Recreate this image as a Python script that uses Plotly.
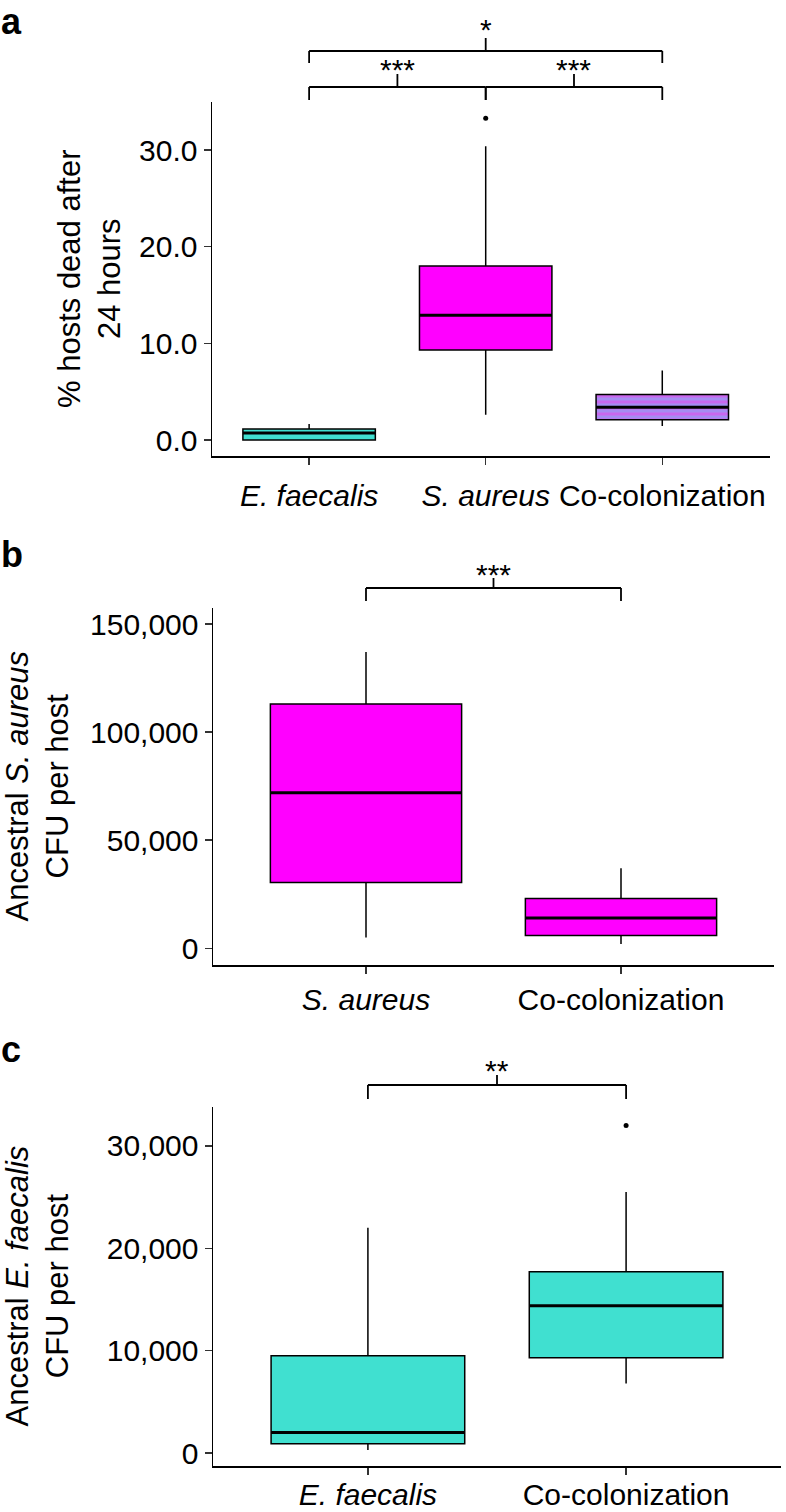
import plotly.graph_objects as go

W, H = 786, 1512

# ---------------- data ----------------
# Panel a: % hosts dead after 24 hours
a_cats = ["<i>E. faecalis</i>", "<i>S. aureus</i>", "Co-colonization"]
a_low = [0.0, 2.6, 1.45]
a_q1 = [0.0, 9.3, 2.1]
a_med = [0.72, 12.9, 3.4]
a_q3 = [1.14, 18.0, 4.7]
a_high = [1.65, 30.4, 7.2]
a_out_x = [1]
a_out_y = [33.3]
a_ticks = [0, 10, 20, 30]
a_ticklabels = ["0.0", "10.0", "20.0", "30.0"]
a_fill = ["turq", "mag", "stripe"]
a_sig = [(0, 1, "***", 0), (1, 2, "***", 0), (0, 2, "*", 1)]

# Panel b: ancestral S. aureus CFU per host
b_cats = ["<i>S. aureus</i>", "Co-colonization"]
b_low = [5000, 2000]
b_q1 = [30500, 6000]
b_med = [72000, 14000]
b_q3 = [113000, 23000]
b_high = [137000, 37000]
b_ticks = [0, 50000, 100000, 150000]
b_ticklabels = ["0", "50,000", "100,000", "150,000"]
b_fill = ["mag", "mag"]
b_sig = [(0, 1, "***", 0)]

# Panel c: ancestral E. faecalis CFU per host
c_cats = ["<i>E. faecalis</i>", "Co-colonization"]
c_low = [300, 6800]
c_q1 = [900, 9300]
c_med = [2000, 14400]
c_q3 = [9500, 17700]
c_high = [22000, 25500]
c_out_x = [1]
c_out_y = [32000]
c_ticks = [0, 10000, 20000, 30000]
c_ticklabels = ["0", "10,000", "20,000", "30,000"]
c_fill = ["turq", "turq"]
c_sig = [(0, 1, "**", 0)]

# ---------------- style ----------------
COL = {"turq": "#40E0D0", "mag": "#FF00FF"}
STRIPE_BG = "#c968ee"
STRIPE_FG = "#82b2f6"
FONT = "Liberation Sans, Arial, Helvetica, sans-serif"
BOXW = 0.75

panels = [
    dict(name="a", cats=a_cats, low=a_low, q1=a_q1, med=a_med, q3=a_q3, high=a_high,
         out_x=a_out_x, out_y=a_out_y, ticks=a_ticks, ticklabels=a_ticklabels,
         fill=a_fill, sig=a_sig, px=(212, 770, 102, 456),
         xr=[-0.55, 2.61], yr=[-1.655, 34.97], xstand=5,
         title="% hosts dead after<br>24 hours", title_x=89,
         label_top=0,
         br=[dict(bar=15, leg=2, tick=28, text=14), dict(bar=51, leg=39, tick=64, text=54)]),
    dict(name="b", cats=b_cats, low=b_low, q1=b_q1, med=b_med, q3=b_q3, high=b_high,
         out_x=[], out_y=[], ticks=b_ticks, ticklabels=b_ticklabels,
         fill=b_fill, sig=b_sig, px=(213, 774, 608, 965),
         xr=[-0.6, 1.6], yr=[-7700, 157400], xstand=0,
         title="Ancestral <i>S. aureus</i><br>CFU per host", title_x=37,
         label_top=533,
         br=[dict(bar=20, leg=7, tick=30, text=15)]),
    dict(name="c", cats=c_cats, low=c_low, q1=c_q1, med=c_med, q3=c_q3, high=c_high,
         out_x=c_out_x, out_y=c_out_y, ticks=c_ticks, ticklabels=c_ticklabels,
         fill=c_fill, sig=c_sig, px=(213, 781, 1107, 1466),
         xr=[-0.6, 1.6], yr=[-1270, 33810], xstand=-6,
         title="Ancestral <i>E. faecalis</i><br>CFU per host", title_x=37,
         label_top=1028,
         br=[dict(bar=22, leg=8, tick=32, text=18)]),
]

fig = go.Figure()
shapes = []
annotations = []
layout = {}

for k, p in enumerate(panels):
    sfx = "" if k == 0 else str(k + 1)
    xa, ya = "x" + sfx, "y" + sfx
    xl, xrp, yt, yb = p["px"]
    n = len(p["cats"])
    xs = list(range(n))

    for i in xs:
        fill = p["fill"][i]
        if fill == "stripe":
            fig.add_trace(go.Bar(
                x=[i], y=[p["q3"][i] - p["q1"][i]], base=[p["q1"][i]], width=BOXW,
                marker=dict(color=STRIPE_BG, line=dict(width=0),
                            pattern=dict(shape="-", fgcolor=STRIPE_FG, bgcolor=STRIPE_BG,
                                         size=6, solidity=0.5)),
                xaxis=xa, yaxis=ya, hoverinfo="skip"))
            fc = "rgba(0,0,0,0)"
        else:
            fc = COL[fill]
        fig.add_trace(go.Box(
            x=[i], q1=[p["q1"][i]], median=[p["med"][i]], q3=[p["q3"][i]],
            lowerfence=[p["low"][i]], upperfence=[p["high"][i]],
            width=BOXW, whiskerwidth=0, boxpoints=False, fillcolor=fc,
            line=dict(color="black", width=1.5), xaxis=xa, yaxis=ya))
        fig.add_trace(go.Scatter(
            x=[i - BOXW / 2, i + BOXW / 2], y=[p["med"][i], p["med"][i]], mode="lines",
            line=dict(color="black", width=3), xaxis=xa, yaxis=ya, hoverinfo="skip"))

    if p["out_x"]:
        fig.add_trace(go.Scatter(x=p["out_x"], y=p["out_y"], mode="markers",
                                 marker=dict(color="black", size=5), cliponaxis=False,
                                 xaxis=xa, yaxis=ya))

    axis_common = dict(
        showline=True, linecolor="black", linewidth=1.5,
        ticks="outside", ticklen=7, tickwidth=1.5, tickcolor="#333333",
        showgrid=False, zeroline=False, automargin=False,
        tickfont=dict(size=30, color="black", family=FONT))
    layout["xaxis" + sfx] = dict(
        axis_common, domain=[xl / W, xrp / W], range=p["xr"], anchor=ya,
        tickmode="array", tickvals=xs, ticktext=p["cats"],
        ticklabelstandoff=p["xstand"])
    layout["yaxis" + sfx] = dict(
        axis_common, domain=[1 - yb / H, 1 - yt / H], range=p["yr"], anchor=xa,
        tickmode="array", tickvals=p["ticks"], ticktext=p["ticklabels"])

    # significance brackets
    dom_h = yb - yt
    r0, r1 = p["xr"]
    def fx(v):
        return (v - r0) / (r1 - r0)
    def fy(px_above):
        return 1 + px_above / dom_h
    for (i, j, lab, lev) in p["sig"]:
        g = p["br"][lev]
        xi, xj, xm = fx(i), fx(j), fx((i + j) / 2)
        common = dict(type="line", xref=xa + " domain", yref=ya + " domain",
                      line=dict(color="black", width=1.8))
        shapes.append(dict(common, x0=xi, x1=xj, y0=fy(g["bar"]), y1=fy(g["bar"])))
        shapes.append(dict(common, x0=xi, x1=xi, y0=fy(g["bar"]), y1=fy(g["leg"])))
        shapes.append(dict(common, x0=xj, x1=xj, y0=fy(g["bar"]), y1=fy(g["leg"])))
        shapes.append(dict(common, x0=xm, x1=xm, y0=fy(g["bar"]), y1=fy(g["tick"])))
        annotations.append(dict(
            text=lab, x=(i + j) / 2, xref=xa, y=fy(g["text"]), yref=ya + " domain",
            xanchor="center", yanchor="bottom", showarrow=False,
            font=dict(size=30, color="black", family=FONT)))

    # y axis title
    annotations.append(dict(
        text=p["title"], textangle=-90, x=p["title_x"] / W, xref="paper",
        y=1 - (yt + yb) / 2 / H, yref="paper", xanchor="center", yanchor="middle",
        showarrow=False, font=dict(size=31, color="black", family=FONT)))
    # panel label
    annotations.append(dict(
        text="<b>" + p["name"] + "</b>", x=0, xref="paper",
        y=1 - p["label_top"] / H, yref="paper", xanchor="left", yanchor="top",
        borderpad=0, showarrow=False, font=dict(size=36, color="black", family=FONT)))

fig.update_layout(
    width=W, height=H, margin=dict(l=0, r=0, t=0, b=0, autoexpand=False),
    paper_bgcolor="white", plot_bgcolor="white", showlegend=False,
    font=dict(family=FONT, color="black"),
    shapes=shapes, annotations=annotations, **layout)

fig.write_html(
    "out.html",
    config={"displayModeBar": False, "staticPlot": True},
    post_script="document.body.style.margin='0';document.body.style.padding='0';"
                "document.body.style.overflow='hidden';")
